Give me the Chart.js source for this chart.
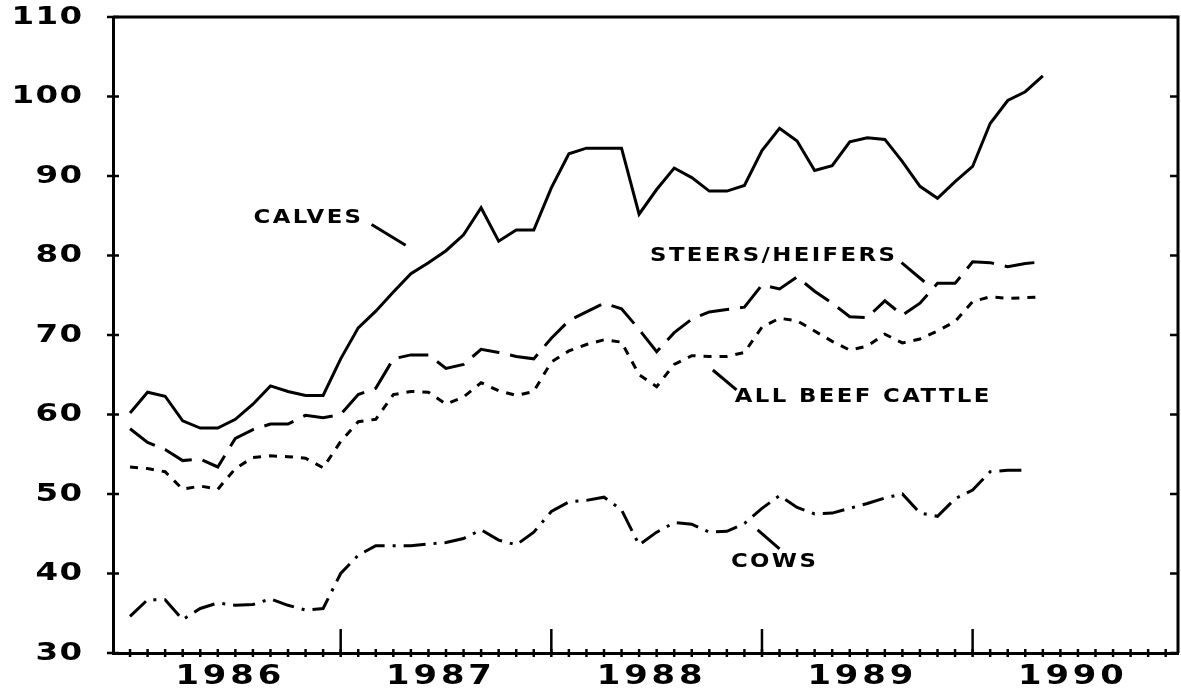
<!DOCTYPE html>
<html lang="en">
<head>
    <meta charset="UTF-8">
    <title>Cattle prices 1986-1990</title>
    <style>
        html, body { margin: 0; padding: 0; background: #fff; }
        #wrap { width: 1181px; height: 692px; position: relative; }
    </style>
</head>
<body>
    <div id="wrap"><canvas id="chart" width="1181" height="692"></canvas></div>

    <script src="https://cdn.jsdelivr.net/npm/chart.js"></script>
    <script>
        // Monthly values, month 0 = Jan 1986
        const calves = [60.2, 62.8, 62.3, 59.2, 58.3, 58.3, 59.4, 61.3, 63.6, 62.9, 62.4, 62.4,
            67.0, 70.9, 73.0, 75.4, 77.7, 79.1, 80.6, 82.6, 86.0, 81.8, 83.2, 83.2,
            88.5, 92.8, 93.5, 93.5, 93.5, 85.2, 88.3, 91.0, 89.8, 88.1, 88.1, 88.8,
            93.2, 96.0, 94.4, 90.7, 91.3, 94.3, 94.8, 94.6, 91.8, 88.7, 87.2, 89.3,
            91.2, 96.6, 99.5, 100.6, 102.6];
        const steersHeifers = [58.2, 56.5, 55.6, 54.2, 54.4, 53.4, 57.0, 58.1, 58.8, 58.8, 59.9, 59.6,
            60.0, 62.5, 63.3, 67.0, 67.5, 67.5, 65.8, 66.3, 68.2, 67.8, 67.3, 67.0,
            69.6, 71.8, 72.9, 74.0, 73.3, 70.7, 67.9, 70.3, 72.0, 72.9, 73.2, 73.5,
            76.3, 75.8, 77.3, 75.5, 74.0, 72.3, 72.2, 74.3, 72.5, 74.0, 76.5, 76.5,
            79.2, 79.1, 78.6, 79.0, 79.2];
        const allBeefCattle = [53.4, 53.2, 52.8, 50.6, 51.0, 50.6, 53.2, 54.6, 54.8, 54.7, 54.5, 53.3,
            56.6, 59.1, 59.4, 62.5, 62.9, 62.8, 61.3, 62.2, 64.0, 63.0, 62.4, 62.9,
            66.6, 68.0, 68.8, 69.4, 69.1, 65.0, 63.5, 66.3, 67.4, 67.3, 67.3, 67.8,
            71.0, 72.1, 71.8, 70.5, 69.2, 68.1, 68.6, 70.1, 69.0, 69.5, 70.5, 71.7,
            74.2, 74.8, 74.6, 74.7, 74.8];
        const cows = [34.6, 36.7, 36.7, 34.2, 35.6, 36.3, 36.0, 36.1, 36.8, 36.0, 35.4, 35.6,
            40.0, 42.3, 43.5, 43.5, 43.5, 43.7, 43.9, 44.4, 45.5, 44.2, 43.6, 45.2,
            47.8, 49.0, 49.2, 49.6, 48.0, 43.6, 45.2, 46.4, 46.2, 45.2, 45.3, 46.3,
            48.2, 49.8, 48.3, 47.5, 47.6, 48.2, 48.8, 49.5, 50.0, 47.6, 47.2, 49.4,
            50.5, 52.8, 53.0, 53.0];

        const yearLabels = ['1986', '1987', '1988', '1989', '1990'];
        const yTicks = [30, 40, 50, 60, 70, 80, 90, 100, 110];

        // Line labels with leader lines (data units)
        const notes = [
            { text: 'CALVES', x: 10.1, y: 84.7, from: [13.76, 83.9], to: [15.7, 81.3] },
            { text: 'STEERS/HEIFERS', x: 36.6, y: 79.9, from: [43.95, 79.1], to: [45.25, 76.7] },
            { text: 'ALL BEEF CATTLE', x: 41.7, y: 62.2, from: [33.2, 65.6], to: [34.55, 63.1] },
            { text: 'COWS', x: 36.65, y: 41.4, from: [35.75, 45.5], to: [37.0, 43.1] }
        ];

        const toPoints = arr => arr.map((v, i) => ({ x: i, y: v }));

        function series(label, values, dash) {
            return {
                label: label,
                data: toPoints(values),
                borderColor: '#000',
                borderWidth: 3,
                borderDash: dash,
                borderCapStyle: 'butt',
                segment: { borderDash: () => dash },
                pointRadius: 0,
                tension: 0,
                fill: false
            };
        }

        // wide plotter-style lettering: stretched horizontally
        function wideText(ctx, text, px, py, align, size, sx, spacing) {
            ctx.save();
            ctx.font = 'bold ' + size + 'px "DejaVu Sans"';
            ctx.letterSpacing = spacing + 'px';
            ctx.textAlign = 'left';
            ctx.textBaseline = 'middle';
            const w = (ctx.measureText(text).width - spacing) * sx;
            let left = px;
            if (align === 'center') left = px - w / 2;
            if (align === 'right') left = px - w;
            ctx.translate(left, py);
            ctx.scale(sx, 1);
            ctx.fillText(text, 0, 0);
            ctx.restore();
        }

        const framePlugin = {
            id: 'frame',
            afterDraw(chart) {
                const { ctx, chartArea: a, scales: { x, y } } = chart;
                const line = (x1, y1, x2, y2) => {
                    ctx.beginPath(); ctx.moveTo(x1, y1); ctx.lineTo(x2, y2); ctx.stroke();
                };
                ctx.save();
                ctx.strokeStyle = '#000';
                ctx.fillStyle = '#000';
                ctx.setLineDash([]);
                ctx.lineWidth = 3;
                ctx.beginPath();
                ctx.moveTo(a.left, a.top);
                ctx.lineTo(a.right, a.top);
                ctx.lineTo(a.right, a.bottom);
                ctx.stroke();

                ctx.lineWidth = 2.5;
                yTicks.forEach(v => {
                    const py = y.getPixelForValue(v);
                    line(a.left - 6, py, a.left + 6, py);
                    line(a.right - 8, py, a.right, py);
                    wideText(ctx, String(v), 82, py, 'right', 25, 1.3, 1);
                });
                // monthly ticks
                for (let m = 0; m < yearLabels.length * 12; m++) {
                    const px = x.getPixelForValue(m);
                    if (px > a.right) break;
                    line(px, a.bottom - 4, px, a.bottom + 4);
                }
                // year boundaries and year names
                yearLabels.forEach((lab, i) => {
                    if (i > 0) {
                        const px = x.getPixelForValue(i * 12);
                        line(px, a.bottom - 24, px, a.bottom);
                    }
                    wideText(ctx, lab, x.getPixelForValue(i * 12 + 5.6), a.bottom + 24, 'center', 26, 1.3, 3);
                });

                // series labels
                ctx.lineWidth = 3;
                notes.forEach(n => {
                    wideText(ctx, n.text, x.getPixelForValue(n.x), y.getPixelForValue(n.y), 'center', 19, 1.2, 2);
                    line(x.getPixelForValue(n.from[0]), y.getPixelForValue(n.from[1]),
                         x.getPixelForValue(n.to[0]), y.getPixelForValue(n.to[1]));
                });
                ctx.restore();
            }
        };

        new Chart(document.getElementById('chart'), {
            type: 'line',
            data: {
                datasets: [
                    series('Calves', calves, []),
                    series('Steers/Heifers', steersHeifers, [30, 11]),
                    series('All beef cattle', allBeefCattle, [8, 8]),
                    series('Cows', cows, [22, 8, 3, 8])
                ]
            },
            options: {
                responsive: false,
                animation: false,
                devicePixelRatio: 1,
                layout: { padding: { top: 17, right: 3, left: 0, bottom: 0 } },
                plugins: { legend: { display: false }, tooltip: { enabled: false } },
                scales: {
                    x: {
                        type: 'linear',
                        min: -0.97,
                        max: 59.7,
                        afterFit: s => { s.height = 39; },
                        ticks: { display: false },
                        grid: { display: false, drawTicks: false },
                        border: { display: true, color: '#000', width: 3 }
                    },
                    y: {
                        min: 30,
                        max: 110,
                        afterBuildTicks: s => { s.ticks = yTicks.map(v => ({ value: v })); },
                        afterFit: s => { s.width = 113; },
                        ticks: { display: false },
                        grid: { display: false, drawTicks: false },
                        border: { display: true, color: '#000', width: 3 }
                    }
                }
            },
            plugins: [framePlugin]
        });
    </script>
</body>
</html>
